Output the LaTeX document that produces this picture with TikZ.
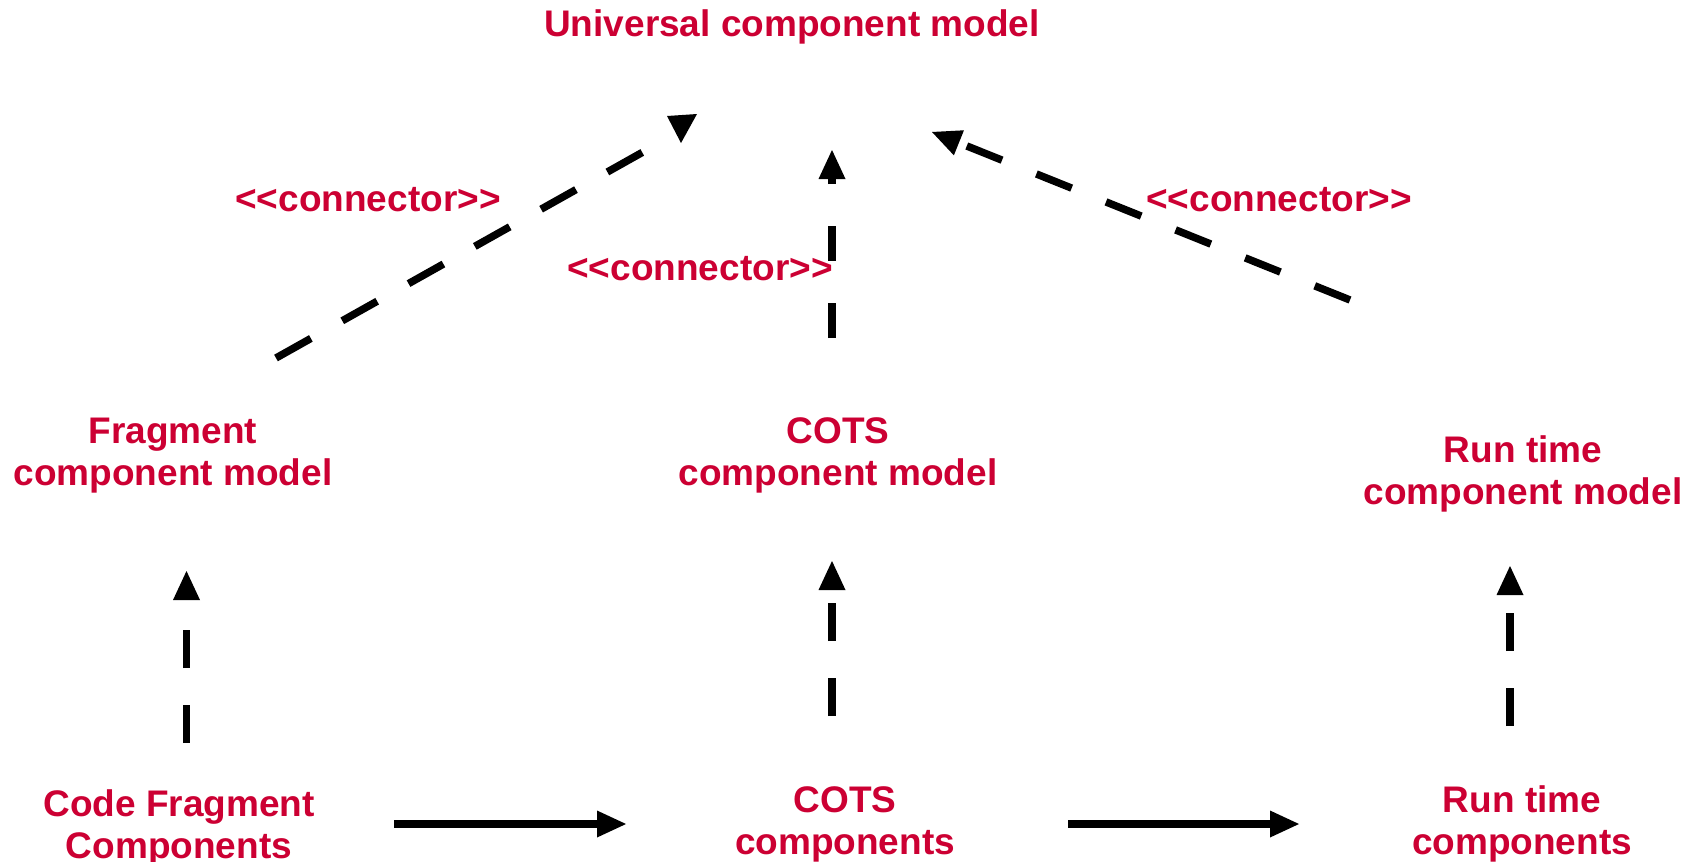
\documentclass[tikz,border=0pt]{standalone}
\usepackage{fontspec}
\setmainfont{Liberation Sans}[Ligatures=TeXOff]
\usetikzlibrary{arrows.meta}
\definecolor{labelred}{RGB}{204,0,51}
\begin{document}
\begin{tikzpicture}[x=1pt,y=-1pt,
  lbl/.style={text=labelred,font=\fontsize{37}{42}\selectfont\bfseries,align=center,inner sep=0pt},
  link/.style={line width=7.5pt,draw=black},
  dashlink/.style={link,dash pattern=on 38pt off 37pt},
  head/.style={-{Triangle[length=29pt,width=27pt,line width=0pt]}},
]
\useasboundingbox[fill=white] (0,0) rectangle (1700,862);

% labels
\node[lbl] (ucm) at (792,27) {Universal component model};
\node[lbl] (c1) at (368,200) {<<connector>>};
\node[lbl] (c2) at (700,269) {<<connector>>};
\node[lbl] (c3) at (1279,200) {<<connector>>};
\node[lbl] (fcm) at (173,456) {Fragment\\component model};
\node[lbl] (ccm) at (838,455) {COTS\\component model};
\node[lbl] (rcm) at (1523,474) {Run time\\component model};
\node[lbl] (cfc) at (179,828) {Code Fragment\\Components};
\node[lbl] (cc) at (845,824) {COTS\\components};
\node[lbl] (rc) at (1522,824) {Run time\\components};

% connector end points
\coordinate (fragTail) at (276,358);
\coordinate (fragEnd)  at (643,152);
\coordinate (cotsTail) at (832,338);
\coordinate (cotsTip)  at (832,150);
\coordinate (rtTail)   at (1350,300);
\coordinate (rtTip)    at (932,132);
\coordinate (cfcUp)    at (186.5,743);
\coordinate (fcmDown)  at (186.5,571);
\coordinate (ccUp)     at (832,716);
\coordinate (ccmDown)  at (832,561);
\coordinate (rcUp)     at (1510,726);
\coordinate (rcmDown)  at (1510,566);
\coordinate (h1a) at (394,824);
\coordinate (h1b) at (626,824);
\coordinate (h2a) at (1068,824);
\coordinate (h2b) at (1299,824);

% <<connector>> links to the universal model
\draw[dashlink,dash pattern=on 40pt off 36pt] (fragTail) -- (fragEnd);
\fill (667,116) -- (697,114) -- (681,143) -- cycle;
\draw[dashlink,head,dash pattern=on 35pt off 42pt] (cotsTail) -- (cotsTip);
\draw[dashlink,head] (rtTail) -- (rtTip);

% component kinds to their models
\draw[dashlink,head] (cfcUp) -- (fcmDown);
\draw[dashlink,head] (ccUp) -- (ccmDown);
\draw[dashlink,head] (rcUp) -- (rcmDown);

% evolution of components
\draw[link,head] (h1a) -- (h1b);
\draw[link,head] (h2a) -- (h2b);
\end{tikzpicture}
\end{document}
